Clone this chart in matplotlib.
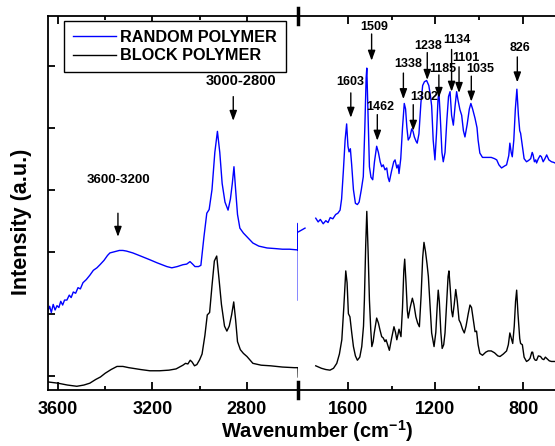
import numpy as np
import matplotlib
matplotlib.use('Agg')
import matplotlib.pyplot as plt
from matplotlib.lines import Line2D

plt.rcParams['font.family'] = ['Liberation Sans', 'DejaVu Sans']
plt.rcParams['font.weight'] = 'bold'
plt.rcParams['mathtext.fontset'] = 'custom'
plt.rcParams['mathtext.bf'] = 'Liberation Sans:bold'
plt.rcParams['mathtext.rm'] = 'Liberation Sans:bold'

# high wavenumber region (3640-2580 cm-1)
hi_wn_random = [3642, 3635, 3628, 3620, 3612, 3604, 3596, 3588, 3580, 3572, 3562, 3552, 3544, 3535,
                3525, 3515, 3505, 3494, 3480, 3465, 3450, 3435, 3422, 3405, 3390, 3380, 3360, 3340,
                3325, 3310, 3283, 3250, 3211, 3180, 3139, 3118, 3095, 3071, 3055, 3041, 3030, 3020,
                3005, 2995, 2982, 2970, 2960, 2948, 2936, 2925, 2915, 2905, 2893, 2880, 2870, 2862,
                2855, 2848, 2840, 2830, 2815, 2800, 2775, 2750, 2715, 2680, 2650, 2620, 2590, 2584,
                2583, 2583]
hi_random = [1.05, 1.12, 1.02, 1.15, 1.06, 1.13, 1.10, 1.20, 1.14, 1.22, 1.22, 1.30, 1.26, 1.35,
             1.33, 1.42, 1.40, 1.50, 1.55, 1.62, 1.70, 1.74, 1.79, 1.86, 1.94, 1.98, 2.00, 2.02,
             2.02, 2.01, 1.98, 1.93, 1.87, 1.82, 1.76, 1.74, 1.76, 1.79, 1.80, 1.84, 1.80, 1.76,
             1.76, 1.78, 2.24, 2.62, 2.68, 3.00, 3.60, 3.94, 3.60, 3.10, 2.80, 2.67, 2.85, 3.10,
             3.37, 3.00, 2.60, 2.38, 2.30, 2.24, 2.14, 2.09, 2.06, 2.05, 2.04, 2.04, 2.03, 2.03,
             2.46, 1.22]

hi_wn_block = [3642, 3600, 3560, 3520, 3490, 3465, 3440, 3420, 3400, 3375, 3350, 3325, 3300, 3283,
               3250, 3211, 3170, 3130, 3100, 3071, 3060, 3050, 3040, 3032, 3022, 3012, 3000, 2990,
               2978, 2968, 2958, 2948, 2938, 2928, 2918, 2908, 2895, 2885, 2875, 2865, 2856, 2848,
               2840, 2828, 2815, 2800, 2775, 2740, 2700, 2650, 2600, 2584, 2583]
hi_block = [-0.10, -0.12, -0.15, -0.17, -0.15, -0.12, -0.06, -0.02, 0.04, 0.10, 0.15, 0.15, 0.13, 0.12,
            0.10, 0.08, 0.08, 0.09, 0.11, 0.17, 0.20, 0.19, 0.25, 0.22, 0.16, 0.18, 0.26, 0.35,
            0.65, 0.98, 1.02, 1.45, 1.85, 1.93, 1.55, 1.15, 0.80, 0.72, 0.80, 0.98, 1.19, 0.90,
            0.55, 0.42, 0.36, 0.31, 0.20, 0.17, 0.16, 0.14, 0.13, 0.13, -0.02]

# fingerprint region (1830-650 cm-1)
lo_wn_random = [1825, 1795, 1790, 1746, 1735, 1725, 1712, 1700, 1690, 1680, 1668, 1655, 1645, 1635,
                1628, 1620, 1612, 1605, 1599, 1594, 1588, 1582, 1574, 1565, 1556, 1548, 1538, 1529,
                1522, 1516, 1513, 1508, 1501, 1494, 1486, 1478, 1468, 1460, 1452, 1445, 1438, 1430,
                1422, 1416, 1410, 1400, 1390, 1384, 1376, 1370, 1366, 1358, 1350, 1342, 1336, 1330,
                1324, 1316, 1308, 1302, 1296, 1288, 1283, 1275, 1266, 1258, 1250, 1240, 1230, 1222,
                1217, 1210, 1202, 1195, 1188, 1184, 1178, 1170, 1164, 1156, 1148, 1140, 1133, 1126,
                1118, 1110, 1103, 1097, 1088, 1080, 1072, 1065, 1055, 1045, 1038, 1030, 1019, 1010,
                1005, 997, 985, 966, 945, 930, 920, 910, 898, 885, 875, 865, 860, 854,
                849, 842, 835, 828, 821, 815, 811, 803, 795, 784, 775, 765, 758, 754,
                748, 742, 738, 730, 722, 716, 708, 700, 692, 682, 670, 660, 654]
lo_random = [2.32, 2.38, np.nan, 2.54, 2.48, 2.52, 2.45, 2.50, 2.47, 2.55, 2.53, 2.60, 2.62, 2.67,
             2.85, 3.30, 3.80, 4.06, 3.70, 3.61, 3.66, 3.40, 3.00, 2.78, 2.76, 2.80, 3.00, 3.21,
             4.00, 4.80, 4.96, 4.30, 3.37, 3.20, 3.16, 3.45, 3.70, 3.60, 3.45, 3.37, 3.40, 3.32,
             3.35, 3.20, 3.13, 3.30, 3.45, 3.48, 3.35, 3.40, 3.26, 3.50, 4.00, 4.39, 4.30, 4.00,
             3.80, 3.85, 3.98, 3.94, 3.85, 3.78, 3.75, 3.90, 4.40, 4.68, 4.74, 4.76, 4.68, 4.50,
             4.35, 3.80, 3.48, 3.90, 4.45, 4.58, 4.20, 3.60, 3.45, 3.60, 4.10, 4.50, 4.58, 4.20,
             4.04, 4.35, 4.58, 4.45, 4.29, 4.20, 3.95, 3.85, 4.05, 4.30, 4.39, 4.30, 4.15, 4.00,
             3.80, 3.59, 3.52, 3.52, 3.52, 3.50, 3.48, 3.40, 3.35, 3.38, 3.40, 3.55, 3.75, 3.60,
             3.53, 3.80, 4.30, 4.62, 4.20, 3.95, 3.91, 3.70, 3.50, 3.45, 3.47, 3.50, 3.60, 3.56,
             3.45, 3.48, 3.43, 3.50, 3.55, 3.53, 3.45, 3.50, 3.56, 3.48, 3.45, 3.44, 3.43]

lo_wn_block = [1746, 1720, 1700, 1681, 1665, 1650, 1638, 1627, 1618, 1609, 1603, 1597, 1590, 1582,
               1574, 1565, 1556, 1545, 1536, 1528, 1524, 1518, 1513, 1507, 1501, 1495, 1490, 1484,
               1479, 1468, 1460, 1453, 1445, 1438, 1430, 1425, 1418, 1410, 1400, 1389, 1382, 1376,
               1371, 1366, 1361, 1357, 1350, 1344, 1340, 1334, 1328, 1324, 1315, 1305, 1298, 1289,
               1281, 1273, 1265, 1258, 1252, 1245, 1238, 1232, 1224, 1217, 1206, 1198, 1192, 1187,
               1182, 1175, 1169, 1162, 1156, 1148, 1142, 1138, 1132, 1126, 1121, 1114, 1107, 1100,
               1092, 1085, 1076, 1068, 1060, 1050, 1042, 1035, 1027, 1019, 1012, 1005, 997, 985,
               970, 959, 945, 930, 915, 905, 890, 875, 867, 860, 853, 847, 840, 834,
               829, 823, 815, 811, 803, 795, 784, 775, 768, 760, 756, 750, 744, 738,
               730, 720, 712, 705, 698, 692, 680, 670, 654]
lo_block = [0.16, 0.12, 0.10, 0.09, 0.12, 0.20, 0.35, 0.58, 1.10, 1.69, 1.50, 1.00, 0.95, 0.70,
            0.47, 0.32, 0.25, 0.30, 0.47, 0.80, 1.22, 2.10, 2.65, 2.00, 1.22, 0.75, 0.47, 0.55,
            0.69, 0.93, 0.85, 0.74, 0.63, 0.61, 0.55, 0.58, 0.50, 0.41, 0.60, 0.79, 0.70, 0.58,
            0.66, 0.75, 0.68, 0.63, 1.10, 1.70, 1.88, 1.50, 1.05, 0.93, 1.10, 1.25, 1.15, 0.95,
            0.85, 0.79, 1.30, 1.90, 2.15, 2.00, 1.80, 1.60, 1.10, 0.69, 0.47, 0.70, 1.10, 1.38,
            1.20, 0.70, 0.44, 0.50, 0.69, 1.20, 1.60, 1.69, 1.40, 1.05, 0.95, 1.15, 1.39, 1.20,
            0.90, 0.85, 0.75, 0.69, 0.80, 1.00, 1.14, 1.10, 0.90, 0.71, 0.72, 0.50, 0.36, 0.33,
            0.38, 0.40, 0.40, 0.37, 0.32, 0.31, 0.35, 0.40, 0.50, 0.69, 0.60, 0.52, 0.80, 1.20,
            1.38, 1.00, 0.60, 0.52, 0.50, 0.30, 0.23, 0.25, 0.28, 0.38, 0.38, 0.28, 0.25, 0.25,
            0.32, 0.31, 0.27, 0.26, 0.30, 0.28, 0.24, 0.23, 0.23]

# peak labels: (text, arrow wavenumber)
hi_peaks = [('3600-3200', 3346), ('3000-2800', 2858)]
lo_peaks = [('1603', 1586), ('1509', 1491), ('1462', 1465), ('1338', 1346), ('1302', 1301),
            ('1238', 1237), ('1185', 1184), ('1134', 1126), ('1101', 1092), ('1035', 1036),
            ('826', 826)]

# layout of the annotations: arrow tail y, arrow head y, text x, text y, font size
hi_layout = [(2.62, 2.24, 3342, 3.16, 9.5), (4.50, 4.11, 2827, 4.75, 10.5)]
lo_layout = [(4.56, 4.16, 1590, 4.74), (5.51, 5.08, 1479, 5.63), (4.21, 3.79, 1453, 4.33),
             (4.88, 4.46, 1326, 5.02), (4.37, 3.95, 1252, 4.49), (5.21, 4.77, 1231, 5.31),
             (4.85, 4.48, 1164, 4.94), (5.26, 4.58, 1103, 5.41), (4.98, 4.56, 1060, 5.12),
             (4.83, 4.42, 997, 4.94), (5.14, 4.73, 814, 5.29)]

W, H = 555, 446
fig = plt.figure(figsize=(W / 100, H / 100), dpi=100)
ax1 = fig.add_axes([48 / W, 1 - 390 / H, 250 / W, 374 / H])
ax2 = fig.add_axes([298 / W, 1 - 390 / H, 257 / W, 374 / H])

ax1.plot(hi_wn_random, hi_random, color='#0000ff', lw=1.0, label='RANDOM POLYMER')
ax1.plot(hi_wn_block, hi_block, color='black', lw=1.0, label='BLOCK POLYMER')
ax2.plot(lo_wn_random, lo_random, color='#0000ff', lw=1.0)
ax2.plot(lo_wn_block, lo_block, color='black', lw=1.0)

ax1.set_xlim(3642, 2584)
ax2.set_xlim(1827, 654)
for ax in (ax1, ax2):
    ax.set_ylim(-0.23, 5.8)
    for s in ax.spines.values():
        s.set_linewidth(1.3)
    ax.tick_params(which='both', direction='in', top=True, width=1.3, pad=8, labelsize=13)
    ax.tick_params(which='major', length=6)
    ax.tick_params(which='minor', length=3)

ax1.set_xticks([3600, 3200, 2800])
ax1.set_xticks([3400, 3000], minor=True)
ax2.set_xticks([1600, 1200, 800])
ax2.set_xticks([1400, 1000], minor=True)
ax1.set_yticks([0, 1, 2, 3, 4, 5])
ax1.set_yticklabels([])
ax1.tick_params(axis='y', length=5)
ax2.set_yticks([])
ax1.spines['right'].set_visible(False)
ax2.spines['left'].set_visible(False)
ax2.spines['right'].set_visible(False)

arrow = dict(arrowstyle='-|>,head_length=0.6,head_width=0.22', color='black', lw=1.0,
             shrinkA=0, shrinkB=0, mutation_scale=10)
for (txt, wn), (ytail, yhead, tx, ty, fs) in zip(hi_peaks, hi_layout):
    ax1.annotate('', xy=(wn, yhead), xytext=(wn, ytail), arrowprops=arrow)
    ax1.text(tx, ty, txt, ha='center', va='center', fontsize=fs, fontweight='bold')
for (txt, wn), (ytail, yhead, tx, ty) in zip(lo_peaks, lo_layout):
    ax2.annotate('', xy=(wn, yhead), xytext=(wn, ytail), arrowprops=arrow)
    ax2.text(tx, ty, txt, ha='center', va='center', fontsize=9, fontweight='bold')

# axis break marks
for yc in (16, 390):
    fig.add_artist(Line2D([298 / W, 298 / W], [1 - (yc - 8) / H, 1 - (yc + 8) / H],
                          color='black', lw=2.5, transform=fig.transFigure))

leg = ax1.legend(loc='upper left', bbox_to_anchor=(64 / W, 1 - 21 / H),
                 bbox_transform=fig.transFigure, borderaxespad=0, fontsize=11.7,
                 handlelength=2.65, handletextpad=0.25, labelspacing=0.2, borderpad=0.55,
                 fancybox=False, framealpha=1, edgecolor='black')
leg.get_frame().set_linewidth(1.0)

fig.text(22 / W, 1 - 222 / H, 'Intensity (a.u.)', rotation=90, ha='center', va='center',
         fontsize=15.5, fontweight='bold')
fig.text(317 / W, 1 - 438 / H, r'Wavenumber (cm$^{\mathbf{-1}}$)', ha='center', va='baseline',
         fontsize=14.5, fontweight='bold')

fig.savefig('out.png', dpi=100)
